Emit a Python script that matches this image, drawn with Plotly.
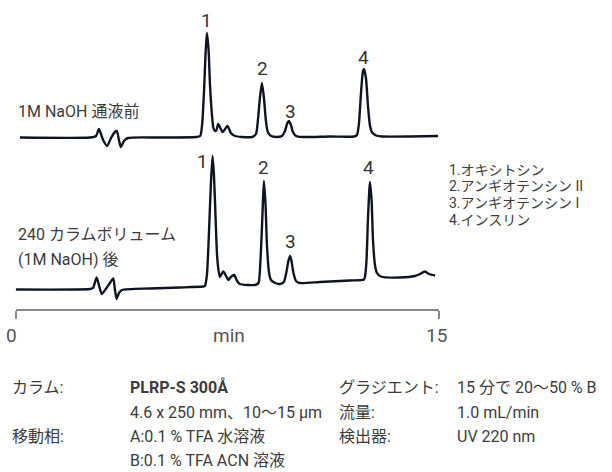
import plotly.graph_objects as go

# ---------------- data (time in min, signal in arbitrary units above baseline) ----------------
top_t = [0.15, 2.63, 2.85, 2.95, 3.10, 3.24, 3.38, 3.52, 3.59, 3.66, 3.73, 3.84, 3.98,
         5.12, 6.39, 6.54, 6.61, 6.68, 6.73, 6.78, 6.84, 6.89, 6.96, 7.01, 7.07,
         7.12, 7.18, 7.34, 7.51, 7.63, 7.78, 8.02,
         8.38, 8.52, 8.59, 8.66, 8.73, 8.80, 8.87, 8.94, 9.06, 9.23,
         9.44, 9.55, 9.62, 9.69, 9.76, 9.83, 9.94, 10.15,
         11.15, 12.00, 12.10, 12.17, 12.24, 12.31, 12.35, 12.42, 12.49, 12.56, 12.63, 12.78, 12.99,
         13.98, 14.98]
top_s = [0.5, 0.5, 2, 9, -2, -8, 0, 6, 7, -2, -9, -3, 0,
         0.5, 1, 2, 13, 48, 83, 105, 88, 53, 23, 10, 7,
         8, 14, 6, 12, 5, 2, 1,
         1, 4, 18, 40, 55, 41, 18, 6, 2, 1,
         2, 7, 14, 17, 13, 6, 2, 1,
         1.5, 1.5, 3, 14, 43, 66, 69, 60, 33, 13, 6, 2.5, 1.5,
         1.5, 2]

bot_t = [0.0, 2.63, 2.74, 2.87, 2.95, 3.05, 3.17, 3.34, 3.46, 3.52, 3.58, 3.66, 3.77,
         4.76, 5.83, 6.64, 6.71, 6.78, 6.85, 6.92, 6.98, 7.03, 7.09, 7.14, 7.19,
         7.24, 7.36, 7.46, 7.54, 7.63, 7.75, 7.85, 7.95, 8.24, 8.49,
         8.61, 8.68, 8.75, 8.80, 8.86, 8.91, 8.98, 9.05, 9.20, 9.37,
         9.51, 9.60, 9.67, 9.73, 9.78, 9.85, 9.94, 10.08,
         10.79, 11.85, 12.35, 12.39, 12.44, 12.49, 12.53, 12.56, 12.62, 12.67, 12.74, 12.81, 12.95,
         13.63, 14.16, 14.34, 14.51, 14.66, 14.87]
bot_s = [0.5, 1, 2, 12.5, 5, -4, 0, 7, 11.5, 0, -9, -3, 0,
         1.5, 2.5, 3.5, 4, 15, 55, 105, 134, 115, 70, 35, 20,
         13, 18.5, 14, 10, 13, 15, 9, 6, 5, 5,
         7, 30, 75, 109, 85, 45, 18, 10, 7, 6,
         8, 18, 29, 34, 29, 17, 9, 7,
         8, 9.5, 10.5, 14, 30, 70, 95, 108, 90, 50, 25, 17, 13.5,
         12.5, 14, 16, 18.5, 16, 14.5]

top_label = "1M NaOH 通液前"
bot_label = ["240 カラムボリューム", "(1M NaOH) 後"]
peak_names = ["1.オキシトシン", "2.アンギオテンシン II", "3.アンギオテンシン I", "4.インスリン"]
x_ticks = [0, 15]
x_title = "min"

table_rows = [
    ("カラム:", "<b>PLRP-S 300Å</b>", "グラジエント:", "15 分で 20〜50 % B"),
    ("", "4.6 x 250 mm、10〜15 µm", "流量:", "1.0 mL/min"),
    ("移動相:", "A:0.1 % TFA 水溶液", "検出器:", "UV 220 nm"),
    ("", "B:0.1 % TFA ACN 溶液", "", ""),
]

# ---------------- layout constants ----------------
W, H = 612, 472
TOP_OFF = 334   # baseline of upper trace (y units = px from bottom)
BOT_OFF = 182
FONT = "Roboto, Noto Sans CJK JP, sans-serif"
LINE_C = "#0e1422"
TEXT_C = "#3c3c3c"

fig = go.Figure()
fig.add_trace(go.Scatter(x=top_t, y=[v + TOP_OFF for v in top_s], mode="lines",
                         line=dict(color=LINE_C, width=2.4, shape="spline", smoothing=0.6),
                         hoverinfo="skip", showlegend=False, cliponaxis=False))
fig.add_trace(go.Scatter(x=bot_t, y=[v + BOT_OFF for v in bot_s], mode="lines",
                         line=dict(color=LINE_C, width=2.4, shape="spline", smoothing=0.6),
                         hoverinfo="skip", showlegend=False, cliponaxis=False))


def px(x, y):
    return x / W, 1 - y / H


ann = []


def add_text(text, x, y, size, color=TEXT_C, xanchor="left"):
    X, Y = px(x, y)
    ann.append(dict(text=text, x=X, y=Y, xref="paper", yref="paper", xanchor=xanchor,
                    yanchor="middle", showarrow=False,
                    font=dict(size=size, color=color, family=FONT)))


# peak numbers
for n, (x, y) in zip("1234", [(206.5, 21), (262, 69), (290, 111), (363, 57)]):
    add_text(n, x, y, 19, "#333333", "center")
for n, (x, y) in zip("1234", [(202.5, 161), (263, 168), (290, 242), (368, 168)]):
    add_text(n, x, y, 19, "#333333", "center")

add_text(top_label, 16, 111, 16)
add_text(bot_label[0], 16, 234, 16)
add_text(bot_label[1], 16, 259, 16)

for i, name in enumerate(peak_names):
    add_text(name, 447, 169.5 + i * 16.9, 14)

# axis labels
add_text(str(x_ticks[0]), 11.5, 335, 19, "#555555", "center")
add_text(str(x_ticks[1]), 436.5, 335, 19, "#555555", "center")
add_text(x_title, 229, 335, 19, "#555555", "center")

col_x = [10, 128, 337, 455]
row_y = [387, 412, 436, 460]
for r, row in enumerate(table_rows):
    for c, cell in enumerate(row):
        if cell:
            add_text(cell, col_x[c], row_y[r], 16)

x0, x1 = 15.7 / W, 438.7 / W
fig.update_layout(
    width=W, height=H,
    margin=dict(l=0, r=0, t=0, b=0),
    paper_bgcolor="white", plot_bgcolor="white",
    annotations=ann,
    xaxis=dict(domain=[x0, x1], range=[x_ticks[0], x_ticks[1]], anchor="free",
               position=(H - 310) / H, showline=True, linecolor="#8a8a8a", linewidth=1.6,
               ticks="outside", tickvals=x_ticks, ticklen=8, tickwidth=1.6, tickcolor="#8a8a8a",
               showticklabels=False, showgrid=False, zeroline=False, fixedrange=True),
    yaxis=dict(domain=[0, 1], range=[0, H], visible=False, fixedrange=True),
    showlegend=False,
)

fig.write_html("out.html", config={"displayModeBar": False})
